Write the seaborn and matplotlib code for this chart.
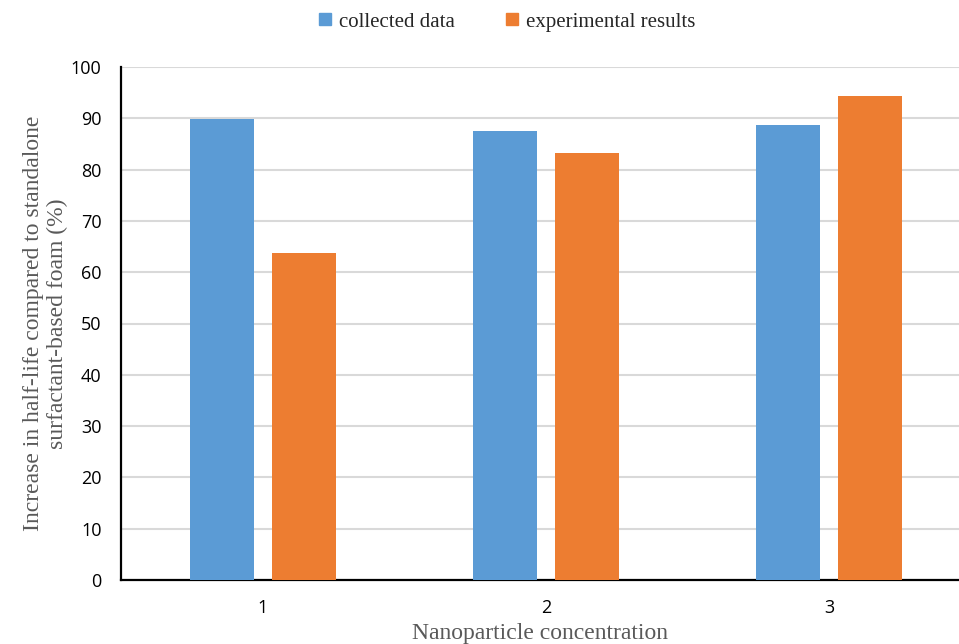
import matplotlib
matplotlib.use("Agg")
import matplotlib.pyplot as plt
import seaborn as sns
import pandas as pd
from matplotlib.lines import Line2D

# Data
concentrations = ["1", "2", "3"]
collected_data = [89.8, 87.5, 88.7]
experimental_results = [63.7, 83.3, 94.4]
series_names = ["collected data", "experimental results"]
colors = ["#5B9BD5", "#ED7D31"]
y_ticks = [0, 10, 20, 30, 40, 50, 60, 70, 80, 90, 100]

df = pd.DataFrame({
    "concentration": concentrations * 2,
    "value": collected_data + experimental_results,
    "series": [series_names[0]] * 3 + [series_names[1]] * 3,
})

sns.set_style("white")
fig = plt.figure(figsize=(9.59, 6.44), dpi=100)
ax = fig.add_axes([121 / 959, 64 / 644, (959 - 121) / 959, 513 / 644])

sns.barplot(data=df, x="concentration", y="value", hue="series",
            palette=colors, width=0.58, gap=0.22, ax=ax, linewidth=0,
            saturation=1, errorbar=None, legend=False, zorder=3)

ax.set_ylim(0, 100)
ax.set_xlim(-0.5, 2.458)
ax.set_yticks(y_ticks)
ax.yaxis.grid(True, color="#D9D9D9", linewidth=1.5, zorder=0)
ax.set_axisbelow(True)

for side in ["top", "right"]:
    ax.spines[side].set_visible(False)
for side in ["left", "bottom"]:
    ax.spines[side].set_color("black")
    ax.spines[side].set_linewidth(1.6)

ax.tick_params(axis="both", length=0, labelsize=13, colors="black")
ax.tick_params(axis="y", pad=14)
ax.tick_params(axis="x", pad=14)
for lab in ax.get_xticklabels() + ax.get_yticklabels():
    lab.set_fontfamily("Open Sans")

ax.set_xlabel("Nanoparticle concentration", family="Liberation Serif",
              fontsize=17, color="#595959", labelpad=4)
ax.set_ylabel("Increase in half-life compared to standalone\nsurfactant-based foam (%)",
              family="Liberation Serif", fontsize=17, color="#595959",
              labelpad=2, linespacing=1.2)

handles = [Line2D([0], [0], marker="s", linestyle="none", markersize=9,
                  markerfacecolor=c, markeredgecolor=c) for c in colors]
fig.legend(handles, series_names, loc="center", bbox_to_anchor=(506 / 959, 1 - 22 / 644),
           ncol=2, frameon=False, handletextpad=0.25, handlelength=0.8,
           columnspacing=2.35, prop={"family": "Liberation Serif", "size": 15})

fig.savefig("out.png", dpi=100)
